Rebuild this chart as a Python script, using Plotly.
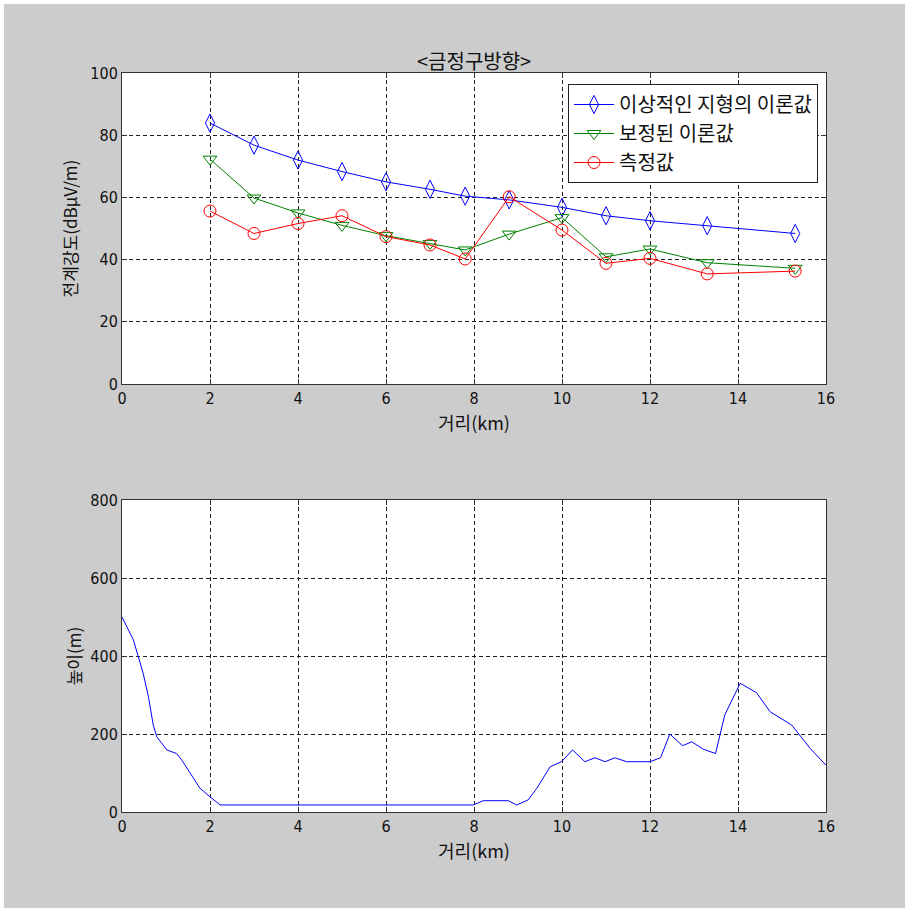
import plotly.graph_objects as go

# ---------------- data ----------------
dist_km = [2.0, 3.0, 4.0, 5.0, 6.0, 7.0, 7.8, 8.8, 10.0, 11.0, 12.0, 13.3, 15.3]
ideal_theory = [83.9, 76.8, 72.0, 68.3, 65.0, 62.6, 60.4, 59.2, 56.8, 54.1, 52.5, 50.9, 48.4]
corrected_theory = [72.3, 59.8, 55.0, 51.0, 47.7, 45.2, 43.1, 48.2, 53.5, 40.9, 43.4, 39.0, 37.2]
measured = [55.6, 48.4, 51.6, 54.1, 47.4, 44.7, 40.2, 60.2, 49.5, 38.8, 40.4, 35.4, 36.3]

profile_km = [0.0, 0.26, 0.48, 0.6, 0.71, 0.79, 1.02, 1.24, 1.36, 1.55, 1.77, 2.0, 2.23,
              7.98, 8.21, 8.78, 8.97, 9.23, 9.43, 9.73, 9.99, 10.24, 10.52, 10.75, 10.98,
              11.2, 11.47, 12.0, 12.24, 12.45, 12.74, 12.95, 13.21, 13.49, 13.7, 14.05,
              14.42, 14.73, 15.22, 15.64, 16.0]
profile_h = [500, 441, 356, 296, 223, 193, 159, 150, 133, 99, 61, 39, 18,
             18, 29, 29, 18, 31, 61, 116, 129, 159, 129, 139, 129,
             139, 129, 129, 139, 200, 170, 180, 161, 150, 249, 330,
             306, 257, 223, 163, 120]

x_ticks = [0, 2, 4, 6, 8, 10, 12, 14, 16]
top_y_ticks = [0, 20, 40, 60, 80, 100]
bot_y_ticks = [0, 200, 400, 600, 800]

names = ["이상적인 지형의 이론값", "보정된 이론값", "측정값"]
title_text = "<금정구방향>"
xlabel = "거리(km)"
ylabel_top = "전계강도(dBμV/m)"
ylabel_bot = "높이(m)"

# ---------------- figure ----------------
W, H = 905, 908
BG = "#cccccc"
KFONT = "Noto Sans CJK KR, Liberation Sans Narrow, sans-serif"
TFONT = "Liberation Sans Narrow, DejaVu Sans Condensed, sans-serif"

fig = go.Figure()

fig.add_trace(go.Scatter(x=dist_km, y=ideal_theory, name=names[0], mode="lines+markers",
                         line=dict(color="#0000ff", width=1),
                         marker=dict(symbol="diamond-tall-open", size=13, color="#0000ff",
                                     line=dict(width=1)),
                         xaxis="x", yaxis="y"))
fig.add_trace(go.Scatter(x=dist_km, y=corrected_theory, name=names[1], mode="lines+markers",
                         line=dict(color="#008000", width=1),
                         marker=dict(symbol="triangle-down-open", size=12, color="#008000",
                                     line=dict(width=1)),
                         xaxis="x", yaxis="y"))
fig.add_trace(go.Scatter(x=dist_km, y=measured, name=names[2], mode="lines+markers",
                         line=dict(color="#ff0000", width=1),
                         marker=dict(symbol="circle-open", size=12, color="#ff0000",
                                     line=dict(width=1)),
                         xaxis="x", yaxis="y"))
fig.add_trace(go.Scatter(x=profile_km, y=profile_h, mode="lines", showlegend=False,
                         line=dict(color="#0000ff", width=1),
                         xaxis="x2", yaxis="y2"))

xd = [122 / W, 826 / W]
top_dom = [1 - 384 / H, 1 - 73 / H]
bot_dom = [1 - 812 / H, 1 - 500 / H]

axis_common = dict(showline=True, linecolor="#333333", linewidth=1, mirror="ticks",
                   ticks="inside", ticklen=5, tickcolor="#333333", automargin=False,
                   showgrid=True, gridcolor="#222222", griddash="4px,3px", gridwidth=1,
                   zeroline=False, tickfont=dict(family=TFONT, size=16, color="#111111"))

fig.update_layout(
    width=W, height=H, autosize=False,
    margin=dict(l=0, r=0, t=0, b=0, pad=0, autoexpand=False),
    paper_bgcolor=BG, plot_bgcolor="#ffffff",
    showlegend=True,
    xaxis=dict(domain=xd, anchor="y", range=[0, 16], tickvals=x_ticks,
               title=dict(text=xlabel, font=dict(family=KFONT, size=18, color="#111111"), standoff=10),
               **axis_common),
    yaxis=dict(domain=top_dom, anchor="x", range=[0, 100], tickvals=top_y_ticks,
               title=dict(text=ylabel_top, font=dict(family=KFONT, size=17, color="#111111"), standoff=8),
               **axis_common),
    xaxis2=dict(domain=xd, anchor="y2", range=[0, 16], tickvals=x_ticks,
                title=dict(text=xlabel, font=dict(family=KFONT, size=18, color="#111111"), standoff=10),
                **axis_common),
    yaxis2=dict(domain=bot_dom, anchor="x2", range=[0, 800], tickvals=bot_y_ticks,
                title=dict(text=ylabel_bot, font=dict(family=KFONT, size=17, color="#111111"), standoff=4),
                **axis_common),
    legend=dict(x=818 / W, y=1 - 84 / H, xanchor="right", yanchor="top",
                bgcolor="#ffffff", bordercolor="#222222", borderwidth=1,
                font=dict(family=KFONT, size=20, color="#111111"),
                tracegroupgap=0, itemwidth=40),
    annotations=[dict(text=title_text, x=(xd[0] + xd[1]) / 2, y=1 - 44 / H,
                      xref="paper", yref="paper", showarrow=False,
                      font=dict(family=KFONT, size=20, color="#111111"))],
    shapes=[dict(type="rect", xref="paper", yref="paper", x0=0, x1=4 / W, y0=0, y1=1,
                 fillcolor="#ffffff", line=dict(width=0), layer="below"),
            dict(type="rect", xref="paper", yref="paper", x0=0, x1=1, y0=1 - 4 / H, y1=1,
                 fillcolor="#ffffff", line=dict(width=0), layer="below")],
)

fig.write_html("out.html")
